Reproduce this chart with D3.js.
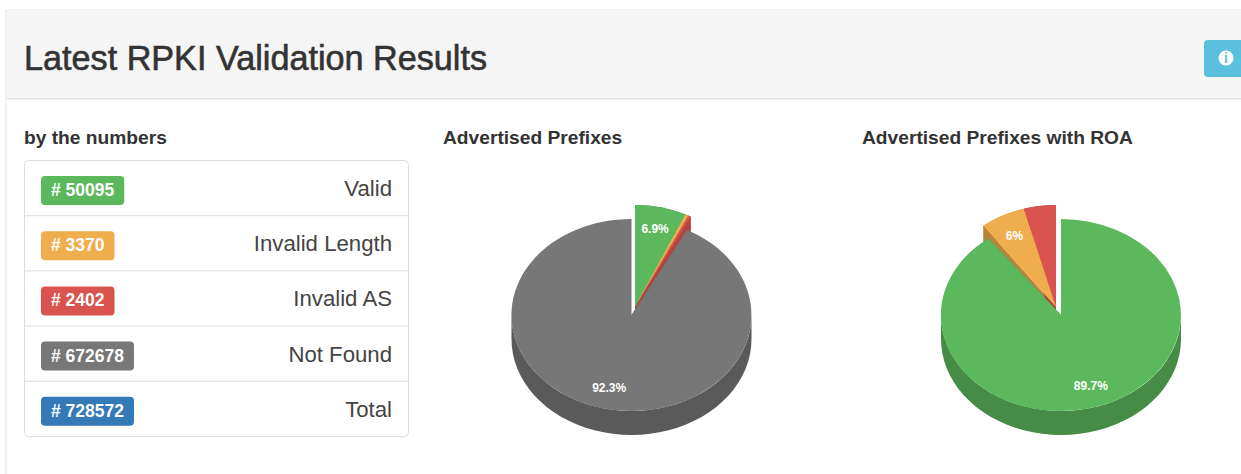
<!DOCTYPE html>
<html>
<head>
<meta charset="utf-8">
<title>Latest RPKI Validation Results</title>
<script src="https://cdnjs.cloudflare.com/ajax/libs/d3/7.8.5/d3.min.js"></script>
<style>
html,body{margin:0;padding:0;background:#fff;overflow:hidden;}
text{font-family:"Liberation Sans",Arial,sans-serif;}
</style>
</head>
<body>
<div id="chart"></div>
<script>
var W = 1241, H = 474;

var categories = ["Valid", "Invalid Length", "Invalid AS", "Not Found", "Total"];
var counts = [50095, 3370, 2402, 672678, 728572];
var badgeColors = ["#5cb85c", "#f0ad4e", "#d9534f", "#777777", "#337ab7"];

// pie slices, same order as the list above
var prefixValues = [50095, 3370, 2402, 672678];
var prefixColors = ["#5cb85c", "#f0ad4e", "#d9534f", "#777777"];
var prefixSides = ["#468c46", "#b8853c", "#b5423f", "#5a5a5a"];
var prefixSliced = [true, true, true, false];

var roaValues = [50095, 3370, 2402];
var roaColors = ["#5cb85c", "#f0ad4e", "#d9534f"];
var roaSides = ["#468c46", "#b8853c", "#b5423f"];
var roaSliced = [false, true, true];

var svg = d3.select("#chart").append("svg")
	.attr("width", W)
	.attr("height", H)
	.style("display", "block");

// panel
svg.append("rect").attr("x", 6).attr("y", 10).attr("width", W).attr("height", H)
	.attr("fill", "#fff").attr("stroke", "#e6e6e6");
svg.append("rect").attr("x", 7).attr("y", 10).attr("width", W).attr("height", 88)
	.attr("fill", "#f5f5f5");
svg.append("rect").attr("x", 7).attr("y", 98).attr("width", W).attr("height", 1.5)
	.attr("fill", "#e2e2e2");
svg.append("text").attr("x", 24).attr("y", 70)
	.attr("font-size", 34.2).attr("fill", "#333")
	.attr("stroke", "#333").attr("stroke-width", 0.6)
	.text("Latest RPKI Validation Results");

// info button
svg.append("rect").attr("x", 1204).attr("y", 40).attr("width", 60).attr("height", 37).attr("rx", 4)
	.attr("fill", "#5bc0de");
svg.append("circle").attr("cx", 1226).attr("cy", 58).attr("r", 7.5).attr("fill", "#fff");
svg.append("text").attr("x", 1226).attr("y", 63).attr("text-anchor", "middle")
	.attr("font-size", 14).attr("font-weight", "bold").attr("fill", "#5bc0de").text("i");

// headings
function heading(x, txt){
	svg.append("text").attr("x", x).attr("y", 144)
		.attr("font-size", 19.2).attr("font-weight", "bold").attr("fill", "#333").text(txt);
}
heading(24, "by the numbers");
heading(443, "Advertised Prefixes");
heading(862, "Advertised Prefixes with ROA");

// list group
var rowScale = d3.scaleBand().domain(categories).range([160.5, 436.5]);
svg.append("rect").attr("x", 24.5).attr("y", 160.5).attr("width", 384).attr("height", 276).attr("rx", 4)
	.attr("fill", "#fff").attr("stroke", "#dddddd");

var rows = svg.selectAll("g.row").data(categories).enter().append("g")
	.attr("class", "row")
	.attr("transform", function(d){ return "translate(0," + rowScale(d) + ")"; });
rows.filter(function(d, i){ return i > 0; }).append("line")
	.attr("x1", 25).attr("x2", 408).attr("stroke", "#dddddd");
rows.append("text")
	.attr("x", 392).attr("y", 35.5)
	.attr("text-anchor", "end").attr("font-size", 22.2).attr("fill", "#444")
	.text(function(d){ return d; });

var badges = rows.append("g");
var badgeRect = badges.append("rect")
	.attr("x", 41).attr("y", 15.5).attr("height", 29).attr("rx", 4)
	.attr("fill", function(d, i){ return badgeColors[i]; });
var badgeText = badges.append("text")
	.attr("x", 51).attr("y", 35.5)
	.attr("font-size", 17.5).attr("font-weight", "bold").attr("fill", "#fff")
	.text(function(d, i){ return "# " + counts[i]; });
badgeRect.attr("width", function(d, i){ return badgeText.nodes()[i].getComputedTextLength() + 20; });

// 3d pie
var rx = 120, ry = 96, depth = 24;
var slicedRy = 102, labelR = 0.78;

function rimPoint(c, a, r){
	return [c.x + rx * Math.sin(a), c.y - r * Math.cos(a)];
}
function radialWall(c, a, r){
	var p = rimPoint(c, a, r);
	return "M" + c.x + "," + c.y + "L" + p + "L" + p[0] + "," + (p[1] + depth)
		+ "L" + c.x + "," + (c.y + depth) + "Z";
}
// outer wall, only the front half of the ellipse faces us
function rimWall(c, a0, a1, r){
	var from = Math.max(a0, Math.PI / 2), to = Math.min(a1, Math.PI * 1.5);
	if(to <= from) from = a0, to = a1;
	var top = d3.range(0, 41).map(function(k){ return rimPoint(c, from + (to - from) * k / 40, r); });
	var bottom = top.slice().reverse().map(function(p){ return [p[0], p[1] + depth]; });
	return "M" + top.concat(bottom).join("L") + "Z";
}

function drawPie(cfg){
	var total = d3.sum(cfg.values);
	var arcs = d3.pie().sort(null)(cfg.values);
	var g = svg.append("g");
	var main = {x: cfg.cx, y: cfg.cy};
	var out = {x: cfg.slicedX, y: cfg.slicedY};
	var unit = d3.arc().innerRadius(0).outerRadius(1);

	function centerOf(i){ return cfg.sliced[i] ? out : main; }
	function radiusOf(i){ return cfg.sliced[i] ? slicedRy : ry; }
	function top(sel){
		sel.append("path")
			.attr("d", function(d){ return unit(d); })
			.attr("transform", function(d){
				var c = centerOf(d.index);
				return "translate(" + c.x + "," + c.y + ") scale(" + rx + "," + radiusOf(d.index) + ")";
			})
			.attr("fill", function(d){ return cfg.colors[d.index]; });
	}
	function walls(sel){
		sel.append("path").attr("d", function(d){ return rimWall(centerOf(d.index), d.startAngle, d.endAngle, radiusOf(d.index)); })
			.attr("fill", function(d){ return cfg.sides[d.index]; });
		sel.append("path").attr("d", function(d){ return radialWall(centerOf(d.index), d.startAngle, radiusOf(d.index)); })
			.attr("fill", function(d){ return cfg.sides[d.index]; });
		sel.append("path").attr("d", function(d){ return radialWall(centerOf(d.index), d.endAngle, radiusOf(d.index)); })
			.attr("fill", function(d){ return cfg.sides[d.index]; });
	}

	var isOut = function(d){ return cfg.sliced[d.index]; };
	var isIn = function(d){ return !cfg.sliced[d.index]; };

	walls(g.append("g").selectAll("g").data(arcs.filter(isOut)).enter().append("g"));
	walls(g.append("g").selectAll("g").data(arcs.filter(isIn)).enter().append("g"));
	top(g.append("g").selectAll("g").data(arcs.filter(isIn)).enter());
	top(g.append("g").selectAll("g").data(arcs.filter(isOut)).enter());

	g.selectAll("text").data(arcs.filter(function(d){ return d.value / total > 0.05; })).enter().append("text")
		.attr("x", function(d){
			return rimPoint(centerOf(d.index), (d.startAngle + d.endAngle) / 2, radiusOf(d.index) * labelR)[0]
				+ (rx * labelR - rx) * Math.sin((d.startAngle + d.endAngle) / 2);
		})
		.attr("y", function(d){
			return rimPoint(centerOf(d.index), (d.startAngle + d.endAngle) / 2, radiusOf(d.index) * labelR)[1] + 4;
		})
		.attr("text-anchor", "middle")
		.attr("font-size", 12).attr("font-weight", "bold").attr("fill", "#fff")
		.text(function(d){ return (+(d.value / total * 100).toFixed(1)) + "%"; });
}

drawPie({values: prefixValues, colors: prefixColors, sides: prefixSides, sliced: prefixSliced,
	cx: 631.5, cy: 315, slicedX: 635, slicedY: 307});
drawPie({values: roaValues, colors: roaColors, sides: roaSides, sliced: roaSliced,
	cx: 1061, cy: 315, slicedX: 1056, slicedY: 307});
</script>
</body>
</html>
